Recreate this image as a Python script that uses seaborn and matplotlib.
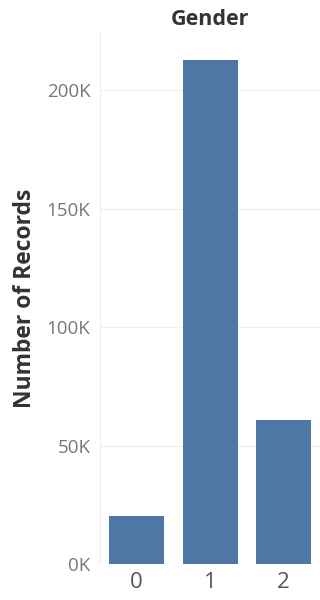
import pandas as pd
import matplotlib
matplotlib.use("Agg")
import matplotlib.pyplot as plt
import seaborn as sns
from matplotlib.ticker import FuncFormatter

gender = ["0", "1", "2"]
records = [20400, 212800, 60800]
y_ticks = [0, 50000, 100000, 150000, 200000]

df = pd.DataFrame({"Gender": gender, "Records": records})

sns.set_style("white")
plt.rcParams["font.family"] = ["Open Sans", "DejaVu Sans"]

fig = plt.figure(figsize=(3.2, 6), dpi=100)
ax = fig.add_axes([0.3125, 0.06, 0.6875, 0.8867])

sns.barplot(data=df, x="Gender", y="Records", color="#4e77a5", saturation=1,
            width=0.75, linewidth=0, ax=ax)

ax.set_ylim(0, 224500)
ax.set_xlim(-0.5, 2.5)
ax.set_yticks(y_ticks)
ax.yaxis.set_major_formatter(FuncFormatter(lambda v, p: f"{int(v / 1000)}K"))
ax.grid(axis="y", color="#f0f0f0", linewidth=1)
ax.set_axisbelow(True)

for s in ["top", "right", "bottom"]:
    ax.spines[s].set_visible(False)
ax.spines["left"].set_color("#eeeeee")

ax.tick_params(axis="y", length=0, labelsize=13.5, labelcolor="#777777", pad=7)
ax.tick_params(axis="x", length=0, labelsize=16, labelcolor="#555555", pad=6)

ax.set_xlabel("")
ax.set_ylabel("Number of Records", fontsize=16.5, fontweight="bold", color="#333333",
              labelpad=7)
ax.set_title("Gender", fontsize=15.5, fontweight="bold", color="#333333", pad=5)

fig.savefig("out.png", dpi=100)
